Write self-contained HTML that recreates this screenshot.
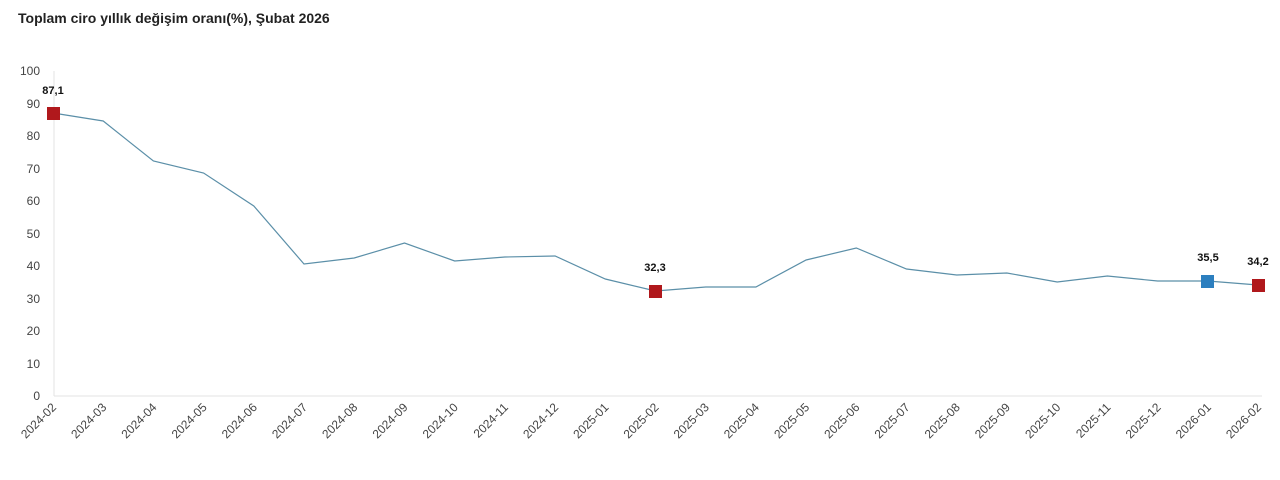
<!DOCTYPE html>
<html><head><meta charset="utf-8"><style>
body{margin:0;background:#fff;width:1280px;height:475px;overflow:hidden;font-family:"Liberation Sans",sans-serif}
</style></head><body>
<svg width="1280" height="475" xmlns="http://www.w3.org/2000/svg" font-family="Liberation Sans, sans-serif">
<text x="18" y="23" font-size="14" font-weight="bold" fill="#222">Toplam ciro yıllık değişim oranı(%), Şubat 2026</text>
<line x1="54" y1="71" x2="54" y2="396" stroke="#e3e3e3"/>
<line x1="54" y1="396" x2="1262" y2="396" stroke="#e3e3e3"/>
<g font-size="12" fill="#444" text-anchor="end">
<text x="40" y="400">0</text><text x="40" y="368">10</text><text x="40" y="335">20</text><text x="40" y="303">30</text><text x="40" y="270">40</text><text x="40" y="238">50</text><text x="40" y="205">60</text><text x="40" y="173">70</text><text x="40" y="140">80</text><text x="40" y="108">90</text><text x="40" y="75">100</text>
</g>
<polyline fill="none" stroke="#5b8fa8" stroke-width="1.2" points="53,113 103.2,121 153.4,161 203.6,173 253.8,206 304,264 354.2,258 404.5,243 454.7,261 504.9,257 555.1,256 605.3,279 655.5,291 705.7,287 755.9,287 806.1,260 856.3,248 906.5,269 956.7,275 1006.9,273 1057.2,282 1107.4,276 1157.6,281 1207.8,281 1258,285"/>
<rect x="47" y="107" width="13" height="13" fill="#b0181c"/>
<rect x="649" y="285" width="13" height="13" fill="#b0181c"/>
<rect x="1201" y="275" width="13" height="13" fill="#2c7fbf"/>
<rect x="1252" y="279" width="13" height="13" fill="#b0181c"/>
<g font-size="11" font-weight="bold" fill="#111" text-anchor="middle">
<text x="53" y="94">87,1</text><text x="655" y="271">32,3</text><text x="1208" y="261">35,5</text><text x="1258" y="265">34,2</text>
</g>
<g font-size="12" fill="#444" text-anchor="end">
<text transform="translate(57,408) rotate(-45)">2024-02</text>
<text transform="translate(107.2,408) rotate(-45)">2024-03</text>
<text transform="translate(157.4,408) rotate(-45)">2024-04</text>
<text transform="translate(207.6,408) rotate(-45)">2024-05</text>
<text transform="translate(257.8,408) rotate(-45)">2024-06</text>
<text transform="translate(308,408) rotate(-45)">2024-07</text>
<text transform="translate(358.2,408) rotate(-45)">2024-08</text>
<text transform="translate(408.5,408) rotate(-45)">2024-09</text>
<text transform="translate(458.7,408) rotate(-45)">2024-10</text>
<text transform="translate(508.9,408) rotate(-45)">2024-11</text>
<text transform="translate(559.1,408) rotate(-45)">2024-12</text>
<text transform="translate(609.3,408) rotate(-45)">2025-01</text>
<text transform="translate(659.5,408) rotate(-45)">2025-02</text>
<text transform="translate(709.7,408) rotate(-45)">2025-03</text>
<text transform="translate(759.9,408) rotate(-45)">2025-04</text>
<text transform="translate(810.1,408) rotate(-45)">2025-05</text>
<text transform="translate(860.3,408) rotate(-45)">2025-06</text>
<text transform="translate(910.5,408) rotate(-45)">2025-07</text>
<text transform="translate(960.7,408) rotate(-45)">2025-08</text>
<text transform="translate(1010.9,408) rotate(-45)">2025-09</text>
<text transform="translate(1061.2,408) rotate(-45)">2025-10</text>
<text transform="translate(1111.4,408) rotate(-45)">2025-11</text>
<text transform="translate(1161.6,408) rotate(-45)">2025-12</text>
<text transform="translate(1211.8,408) rotate(-45)">2026-01</text>
<text transform="translate(1262,408) rotate(-45)">2026-02</text>
</g>
</svg>
</body></html>
